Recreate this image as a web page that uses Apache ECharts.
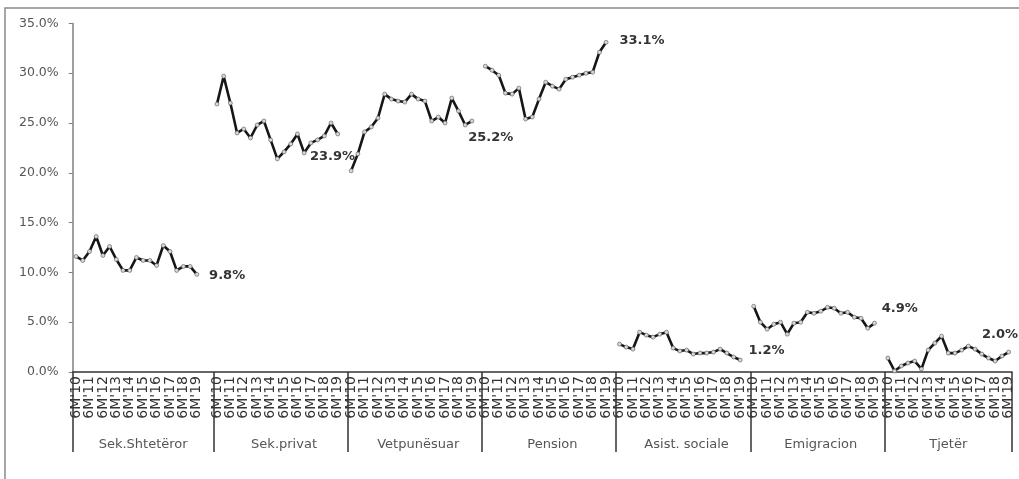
<!DOCTYPE html>
<html>
<head>
<meta charset="utf-8">
<script src="https://cdn.jsdelivr.net/npm/echarts@6/dist/echarts.min.js"></script>
<style>
  html, body { margin: 0; padding: 0; background: #fff; }
  #chart { width: 1019px; height: 479px; }
</style>
</head>
<body>
<div id="chart"></div>
<script>
// Sector groups along the bottom of the chart
const groupNames = ['Sek.Shtetëror', 'Sek.privat', 'Vetpunësuar', 'Pension', 'Asist. sociale', 'Emigracion', 'Tjetër'];

// Half-year periods: only the mid-year points carry a tick label
const tickLabels = ["6M'10", "6M'11", "6M'12", "6M'13", "6M'14", "6M'15", "6M'16", "6M'17", "6M'18", "6M'19"];

// Share of households by main income source (%), 6M'10 ... 6M'19, half-yearly
const sekShteteror = [11.6, 11.2, 12.1, 13.6, 11.7, 12.6, 11.3, 10.2, 10.2, 11.5, 11.2, 11.2, 10.7, 12.7, 12.1, 10.2, 10.6, 10.6, 9.8];
const sekPrivat    = [26.9, 29.7, 27.0, 24.0, 24.4, 23.5, 24.8, 25.2, 23.3, 21.4, 22.1, 22.9, 23.9, 22.0, 23.0, 23.3, 23.7, 25.0, 23.9];
const vetpunesuar  = [20.2, 21.9, 24.1, 24.6, 25.5, 27.9, 27.4, 27.2, 27.1, 27.9, 27.4, 27.2, 25.2, 25.6, 25.0, 27.5, 26.2, 24.8, 25.2];
const pension      = [30.7, 30.3, 29.8, 28.0, 27.9, 28.5, 25.4, 25.6, 27.4, 29.1, 28.7, 28.4, 29.4, 29.6, 29.8, 30.0, 30.1, 32.1, 33.1];
const asistSociale = [2.8, 2.5, 2.3, 4.0, 3.7, 3.5, 3.8, 4.0, 2.4, 2.1, 2.2, 1.8, 1.9, 1.9, 2.0, 2.3, 1.9, 1.5, 1.2];
const emigracion   = [6.6, 5.0, 4.3, 4.8, 5.0, 3.8, 4.9, 5.0, 6.0, 5.9, 6.1, 6.5, 6.4, 5.9, 6.0, 5.5, 5.4, 4.4, 4.9];
const tjeter       = [1.4, 0.1, 0.6, 0.9, 1.1, 0.3, 2.2, 2.9, 3.6, 1.9, 1.9, 2.2, 2.6, 2.3, 1.8, 1.4, 1.1, 1.6, 2.0];

const groupValues = [sekShteteror, sekPrivat, vetpunesuar, pension, asistSociale, emigracion, tjeter];

// Category rows per group (data rows plus trailing blank rows of the sheet)
const slotsPerGroup = [21, 20, 20, 20, 20, 20, 19];

// Placement of the end-of-line value labels (pixel offsets from the last point)
const endLabelOffsets = [[5, 1], [-35, 23], [-11, 17], [6, -2], [1, -9], [0, -15], [-34, -17]];

// Build the shared category axis
const periodCats = [];
const groupCats = [];
const groupStarts = [];
slotsPerGroup.forEach((slots, g) => {
  groupStarts.push(periodCats.length);
  for (let i = 0; i < slots; i++) {
    periodCats.push(i < 19 && i % 2 === 0 ? tickLabels[i / 2] : '');
    groupCats.push(i === Math.floor(slots / 2) ? groupNames[g] : '');
  }
});
const total = periodCats.length;
const boundarySet = new Set(groupStarts);

const pct = v => v.toFixed(1) + '%';

const series = groupValues.map((vals, g) => {
  const data = new Array(total).fill(null);
  vals.forEach((v, i) => {
    const idx = groupStarts[g] + i;
    if (i === vals.length - 1) {
      data[idx] = {
        value: v,
        label: {
          show: true,
          position: 'right',
          offset: endLabelOffsets[g],
          formatter: p => pct(p.value),
          fontFamily: 'DejaVu Sans',
          fontWeight: 'bold',
          fontSize: 13,
          color: '#333'
        }
      };
    } else {
      data[idx] = v;
    }
  });
  return {
    name: groupNames[g],
    type: 'line',
    data: data,
    connectNulls: false,
    showAllSymbol: true,
    symbol: 'circle',
    symbolSize: 4,
    lineStyle: { color: '#161616', width: 2.6 },
    itemStyle: { color: '#d4d9d4', borderColor: '#555', borderWidth: 0.6 },
    label: { show: false },
    emphasis: { disabled: true },
    animation: false,
    z: 3
  };
});

const chart = echarts.init(document.getElementById('chart'), null, { renderer: 'canvas' });
chart.setOption({
  backgroundColor: '#fff',
  animation: false,
  graphic: [{
    type: 'rect',
    shape: { x: 5, y: 8, width: 1040, height: 500 },
    style: { fill: 'none', stroke: '#8a8a8a', lineWidth: 1.5 },
    silent: true,
    z: -10
  }],
  grid: { left: 72.7, right: 7, top: 23.4, bottom: 107, containLabel: false },
  xAxis: [{
    type: 'category',
    position: 'bottom',
    data: periodCats,
    boundaryGap: true,
    axisLine: { show: true, lineStyle: { color: '#333', width: 1.5 } },
    axisTick: { show: false },
    axisLabel: {
      interval: 0,
      rotate: 90,
      margin: 4,
      fontFamily: 'DejaVu Sans',
      fontSize: 14,
      color: '#333'
    },
    splitLine: { show: false }
  }, {
    type: 'category',
    position: 'bottom',
    data: groupCats,
    boundaryGap: true,
    axisLine: { show: false },
    axisTick: {
      show: true,
      interval: idx => boundarySet.has(idx),
      length: 80,
      lineStyle: { color: '#333', width: 1.5 }
    },
    axisLabel: {
      interval: 0,
      margin: 66,
      fontFamily: 'DejaVu Sans',
      fontSize: 13,
      color: '#555'
    },
    splitLine: { show: false }
  }],
  yAxis: {
    type: 'value',
    min: 0,
    max: 35,
    interval: 5,
    axisLine: { show: true, lineStyle: { color: '#808080', width: 1.5 } },
    axisTick: { show: true, length: 4, lineStyle: { color: '#808080' } },
    axisLabel: {
      formatter: pct,
      margin: 14,
      fontFamily: 'DejaVu Sans',
      fontSize: 12.5,
      color: '#555'
    },
    splitLine: { show: false }
  },
  series: series
});
</script>
</body>
</html>
